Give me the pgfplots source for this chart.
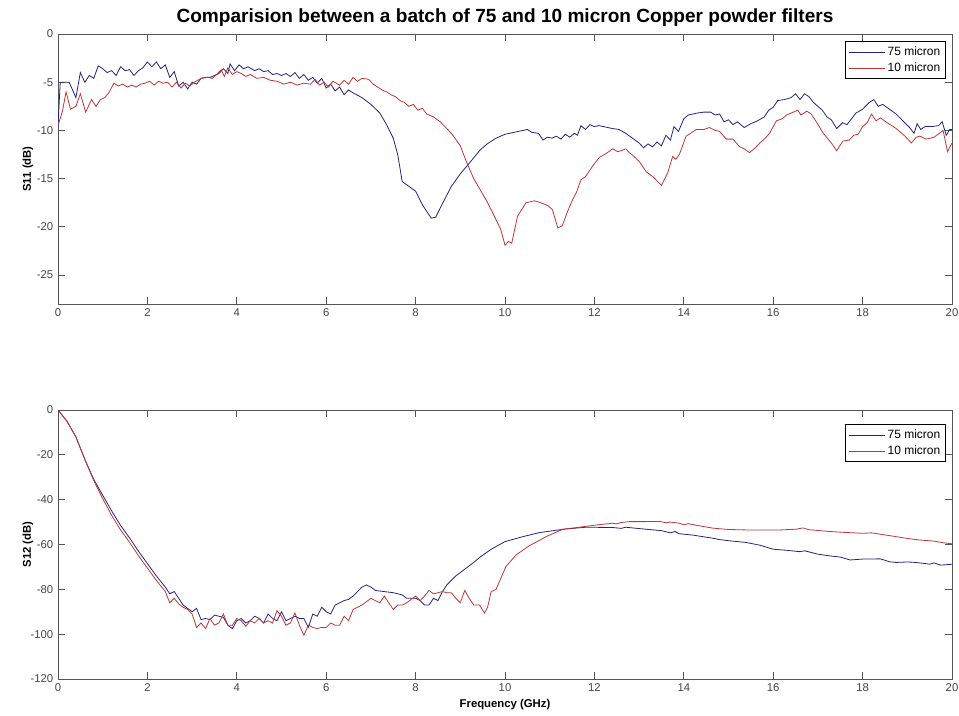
\documentclass[border=0pt]{standalone}
\usepackage{pgfplots}
\pgfplotsset{compat=1.18}
\usepackage{fontspec}
\setmainfont{Liberation Sans}
\definecolor{mblue}{RGB}{35,35,130}
\definecolor{mred}{RGB}{190,55,55}
\definecolor{frm}{RGB}{85,85,85}
\definecolor{tl}{RGB}{70,70,70}
\pgfplotsset{
  mstyle/.style={
    scale only axis, width=670.5pt,
    xmin=0, xmax=20, xtick={0,2,...,20},
    axis line style={frm, line width=0.7pt},
    tick align=inside, tick pos=both,
    major tick length=5.25pt,
    every tick/.style={frm, line width=0.6pt},
    ticklabel style={font=\fontsize{8.5}{10}\selectfont, text=tl},
    /pgf/number format/assume math mode=true,
    every axis y label/.style={at={(axis description cs:-0.0336,0.5)}, rotate=90, anchor=center, font=\bfseries\fontsize{8.5}{10}\selectfont},
    legend cell align=left,
    legend image code/.code={\draw[##1,line width=0.6pt] (0pt,0pt) -- (27pt,0pt);},
    every axis plot/.append style={line width=0.6pt, mark=none},
  }
}
\begin{document}
\begin{tikzpicture}
\path[use as bounding box] (0,0) rectangle (719.25pt,536.25pt);
\begin{axis}[mstyle, name=top, at={(43.5pt,308.25pt)}, anchor=south west,
  height=202.5pt, ymin=-28, ymax=0, ytick={-25,-20,...,0},
  ylabel={S11 (dB)},
  title={Comparision between a batch of 75 and 10 micron Copper powder filters},
  title style={at={(axis description cs:0.5,1.030)}, anchor=center, yshift=0pt, font=\bfseries\fontsize{14.3}{16}\selectfont},
  legend style={at={(rel axis cs:1,1)}, anchor=north east, xshift=-4.5pt, yshift=-5.25pt, draw=black, line width=0.6pt, font=\fontsize{9}{10}\selectfont, row sep=0pt, inner sep=2pt},
]
\addplot[mblue] coordinates {
(0.00,-9.5)(0.05,-5.0)(0.25,-5.0)(0.40,-6.6)(0.50,-4.0)(0.60,-5.0)(0.70,-4.3)(0.80,-4.6)(0.90,-3.3)(1.00,-3.6)
(1.10,-4.0)(1.20,-3.8)(1.30,-4.3)(1.40,-3.4)(1.50,-3.8)(1.60,-3.7)(1.70,-4.3)(1.80,-3.8)(1.90,-3.5)(2.00,-2.9)
(2.10,-3.4)(2.20,-2.9)(2.30,-3.6)(2.40,-3.2)(2.50,-4.5)(2.60,-3.9)(2.70,-5.4)(2.80,-5.0)(2.90,-5.7)(3.00,-5.0)
(3.10,-5.2)(3.20,-4.6)(3.30,-4.5)(3.40,-4.5)(3.50,-4.3)(3.60,-4.1)(3.70,-3.6)(3.80,-4.1)(3.85,-3.1)(3.95,-3.8)
(4.05,-3.2)(4.15,-3.6)(4.25,-3.4)(4.40,-3.8)(4.50,-3.6)(4.60,-3.9)(4.70,-3.8)(4.80,-4.2)(4.90,-4.1)(5.00,-4.3)
(5.10,-4.1)(5.20,-4.4)(5.30,-4.0)(5.40,-4.6)(5.50,-4.2)(5.60,-4.8)(5.70,-4.5)(5.80,-5.1)(5.90,-4.6)(6.00,-5.6)
(6.10,-5.2)(6.20,-5.9)(6.30,-5.5)(6.40,-6.3)(6.50,-5.8)(6.60,-6.1)(6.80,-6.6)(7.00,-7.3)(7.20,-8.2)(7.35,-9.4)
(7.50,-10.8)(7.60,-12.5)(7.70,-15.3)(7.85,-15.8)(8.00,-16.3)(8.15,-17.7)(8.35,-19.1)(8.45,-19.0)(8.60,-17.6)(8.80,-15.8)
(9.00,-14.5)(9.20,-13.4)(9.45,-12.0)(9.60,-11.4)(9.80,-10.8)(10.00,-10.4)(10.20,-10.2)(10.40,-10.0)(10.50,-9.9)(10.60,-10.2)
(10.75,-10.3)(10.85,-11.0)(10.95,-10.7)(11.05,-10.8)(11.15,-10.6)(11.25,-10.9)(11.35,-10.4)(11.45,-10.7)(11.55,-10.3)(11.62,-10.5)
(11.70,-9.5)(11.80,-9.9)(11.90,-9.4)(12.00,-9.6)(12.10,-9.5)(12.20,-9.6)(12.40,-9.8)(12.55,-9.9)(12.70,-10.3)(12.85,-10.8)
(13.00,-11.3)(13.10,-11.8)(13.20,-11.4)(13.30,-11.7)(13.40,-11.2)(13.50,-11.6)(13.60,-10.5)(13.70,-11.0)(13.78,-9.6)(13.88,-10.1)
(14.00,-8.8)(14.10,-8.4)(14.30,-8.2)(14.45,-8.1)(14.60,-8.1)(14.70,-8.4)(14.80,-8.3)(14.90,-9.1)(15.00,-8.9)(15.10,-9.4)
(15.20,-9.1)(15.35,-9.7)(15.50,-9.3)(15.65,-9.0)(15.80,-8.6)(15.90,-7.9)(16.00,-7.6)(16.10,-6.9)(16.25,-6.8)(16.40,-6.6)
(16.50,-6.2)(16.60,-6.8)(16.70,-6.2)(16.80,-6.5)(16.90,-7.1)(17.00,-7.5)(17.10,-7.9)(17.20,-8.6)(17.30,-8.9)(17.42,-9.8)
(17.55,-9.2)(17.65,-9.4)(17.75,-8.8)(17.85,-8.2)(18.00,-7.8)(18.15,-7.1)(18.25,-6.8)(18.35,-7.5)(18.45,-7.3)(18.60,-7.8)
(18.75,-8.3)(18.90,-9.0)(19.05,-9.7)(19.15,-10.3)(19.22,-9.3)(19.30,-9.9)(19.40,-9.6)(19.55,-9.6)(19.70,-9.5)(19.78,-9.1)
(19.87,-10.5)(19.95,-9.9)(20.00,-9.9)
};
\addlegendentry{75 micron}
\addplot[mred] coordinates {
(0.00,-9.5)(0.10,-8.0)(0.18,-6.0)(0.28,-7.8)(0.40,-7.5)(0.50,-6.2)(0.62,-8.1)(0.75,-6.8)(0.85,-7.5)(0.95,-6.8)
(1.05,-6.6)(1.15,-6.0)(1.25,-5.1)(1.35,-5.4)(1.45,-5.2)(1.55,-5.5)(1.65,-5.3)(1.75,-5.5)(1.85,-5.2)(1.95,-5.1)
(2.05,-4.9)(2.15,-5.3)(2.25,-4.9)(2.35,-5.1)(2.45,-5.0)(2.55,-5.5)(2.65,-5.0)(2.75,-5.6)(2.85,-5.1)(2.95,-5.4)
(3.05,-5.0)(3.20,-4.6)(3.35,-4.5)(3.45,-4.6)(3.55,-4.2)(3.65,-3.7)(3.72,-4.4)(3.80,-3.5)(3.90,-4.2)(4.00,-3.9)
(4.10,-4.1)(4.20,-4.4)(4.30,-4.2)(4.45,-4.6)(4.60,-4.5)(4.75,-4.8)(4.90,-4.9)(5.05,-5.2)(5.20,-5.0)(5.35,-5.3)
(5.50,-5.1)(5.65,-5.2)(5.75,-4.7)(5.85,-5.3)(5.95,-5.0)(6.05,-5.5)(6.15,-4.9)(6.30,-5.3)(6.40,-4.8)(6.50,-5.2)
(6.60,-4.5)(6.70,-4.9)(6.80,-4.6)(6.95,-4.7)(7.05,-5.2)(7.15,-5.5)(7.25,-5.8)(7.35,-6.0)(7.45,-6.3)(7.55,-6.5)
(7.65,-6.9)(7.75,-7.1)(7.85,-7.5)(7.95,-7.3)(8.05,-7.9)(8.15,-7.7)(8.25,-8.3)(8.40,-8.6)(8.55,-9.1)(8.70,-9.8)
(8.85,-10.6)(9.00,-11.6)(9.15,-13.4)(9.30,-15.0)(9.45,-16.2)(9.60,-17.4)(9.75,-18.8)(9.90,-20.2)(10.00,-21.9)(10.08,-21.5)
(10.15,-21.7)(10.28,-18.9)(10.47,-17.5)(10.66,-17.3)(10.80,-17.5)(10.96,-17.8)(11.06,-18.2)(11.18,-20.1)(11.28,-19.9)(11.40,-18.4)
(11.51,-17.2)(11.60,-16.4)(11.70,-15.1)(11.80,-14.8)(11.96,-13.7)(12.11,-12.8)(12.26,-12.4)(12.41,-11.9)(12.52,-12.2)(12.60,-12.1)
(12.70,-11.9)(12.78,-12.3)(12.86,-12.6)(13.00,-13.2)(13.16,-14.3)(13.31,-14.8)(13.50,-15.7)(13.64,-14.4)(13.75,-12.7)(13.82,-13.0)
(13.90,-12.5)(14.05,-10.6)(14.15,-10.3)(14.28,-9.9)(14.45,-9.9)(14.57,-9.7)(14.70,-10.0)(14.80,-10.1)(14.95,-10.9)(15.10,-10.9)
(15.25,-11.7)(15.35,-11.9)(15.47,-12.3)(15.60,-11.8)(15.70,-11.3)(15.80,-10.9)(15.92,-10.3)(16.07,-9.0)(16.20,-8.8)(16.30,-8.4)
(16.45,-8.1)(16.55,-7.9)(16.62,-8.4)(16.75,-8.0)(16.85,-8.3)(16.95,-9.0)(17.12,-10.3)(17.30,-11.3)(17.42,-12.1)(17.56,-11.1)
(17.70,-11.0)(17.80,-10.5)(17.90,-10.4)(18.00,-9.6)(18.10,-9.2)(18.20,-8.3)(18.30,-9.0)(18.40,-8.7)(18.55,-9.2)(18.75,-9.8)
(18.95,-10.6)(19.09,-11.3)(19.20,-10.7)(19.28,-10.6)(19.43,-10.9)(19.60,-10.7)(19.80,-10.0)(19.90,-12.2)(20.00,-11.3)
};
\addlegendentry{10 micron}
\end{axis}
\begin{axis}[mstyle, name=bot, at={(43.5pt,27pt)}, anchor=south west,
  height=201.75pt, ymin=-120, ymax=0, ytick={-120,-100,...,0},
  ylabel={S12 (dB)},
  xlabel={Frequency (GHz)},
  xlabel style={at={(axis description cs:0.5,-0.0967)}, anchor=center, font=\bfseries\fontsize{8.5}{10}\selectfont},
  legend style={at={(rel axis cs:1,1)}, anchor=north east, xshift=-4.5pt, yshift=-10.5pt, draw=black, line width=0.6pt, font=\fontsize{9}{10}\selectfont, row sep=0pt, inner sep=2pt},
]
\addplot[mblue] coordinates {
(0.0,0)(0.2,-5)(0.4,-12)(0.6,-22)(0.8,-31)(1.0,-38)(1.2,-45)(1.4,-51.5)(1.6,-57)(1.8,-63)
(2.0,-68.5)(2.2,-74)(2.4,-79)(2.5,-82)(2.6,-81)(2.7,-84)(2.8,-87)(3.0,-90)(3.1,-88.5)(3.2,-93.5)
(3.3,-93)(3.4,-93.5)(3.5,-91.5)(3.6,-92)(3.7,-92.5)(3.8,-96)(3.9,-97.5)(4.0,-94)(4.1,-93)(4.2,-95)
(4.3,-94)(4.4,-92)(4.5,-93)(4.6,-95)(4.7,-91)(4.8,-93)(4.9,-94)(5.0,-90)(5.1,-94)(5.2,-93)
(5.3,-92)(5.4,-93)(5.5,-93)(5.6,-97)(5.7,-91)(5.8,-92)(5.9,-88)(6.0,-90)(6.1,-91)(6.2,-87)
(6.3,-86)(6.4,-85)(6.5,-84.5)(6.6,-83)(6.7,-81)(6.8,-79)(6.9,-78)(7.0,-79)(7.1,-80.5)(7.3,-81)
(7.5,-81.5)(7.7,-82.5)(7.8,-84)(8.0,-84)(8.1,-85)(8.2,-87)(8.3,-87)(8.4,-84)(8.5,-85)(8.6,-81)
(8.7,-78)(8.9,-74)(9.1,-71)(9.3,-68)(9.45,-65.5)(9.7,-62)(10.0,-58.7)(10.4,-56.5)(10.77,-54.7)(11.3,-53.2)
(11.8,-52.3)(12.4,-52.4)(12.6,-52.8)(12.7,-52.3)(13.16,-53.2)(13.5,-53.8)(13.7,-54.8)(13.8,-54.2)(13.9,-55.2)(14.2,-55.8)
(14.65,-57.2)(14.8,-57.8)(15.0,-58.3)(15.4,-59.1)(15.7,-60.3)(16.0,-62.1)(16.3,-62.6)(16.6,-63.2)(16.7,-62.8)(17.0,-64.3)
(17.27,-65.1)(17.5,-65.6)(17.72,-66.9)(18.0,-66.5)(18.4,-66.4)(18.6,-67.7)(18.75,-68)(19.0,-67.8)(19.13,-67.9)(19.4,-68.5)
(19.5,-68.8)(19.6,-68.2)(19.75,-69.2)(20.0,-68.8)
};
\addlegendentry{75 micron}
\addplot[mred] coordinates {
(0.0,0)(0.2,-5)(0.4,-12)(0.6,-22)(0.8,-31.5)(1.0,-39.5)(1.2,-47)(1.4,-53.5)(1.6,-59)(1.8,-65)
(2.0,-70.5)(2.2,-76)(2.4,-81)(2.5,-86)(2.6,-84)(2.7,-86.5)(2.8,-88)(2.9,-89)(3.0,-91)(3.1,-97)
(3.2,-95)(3.3,-97.5)(3.4,-93)(3.5,-96)(3.6,-95)(3.7,-91)(3.8,-96)(3.9,-96)(4.0,-93)(4.1,-94)
(4.2,-96.5)(4.3,-94)(4.4,-95)(4.5,-93)(4.6,-95)(4.7,-94)(4.8,-95)(4.9,-89.5)(5.0,-92)(5.1,-96)
(5.2,-95)(5.3,-90.5)(5.4,-96)(5.5,-100.5)(5.6,-96)(5.7,-97)(5.8,-97.5)(5.9,-97)(6.0,-97)(6.1,-95)
(6.2,-96)(6.3,-96)(6.4,-92)(6.5,-94)(6.6,-89)(6.7,-88)(6.8,-87)(6.9,-85.5)(7.0,-84)(7.1,-85)
(7.2,-86)(7.3,-83)(7.4,-86)(7.5,-89)(7.6,-87)(7.7,-87)(7.8,-86)(7.9,-84.5)(8.0,-83)(8.1,-85)
(8.2,-83)(8.3,-80.5)(8.4,-82)(8.5,-81.5)(8.6,-81)(8.7,-81.5)(8.8,-81.5)(8.9,-84)(9.0,-86)(9.1,-80.5)
(9.2,-84)(9.3,-87)(9.43,-87)(9.54,-90.6)(9.61,-88)(9.69,-81)(9.8,-80)(10.02,-69.8)(10.25,-64.6)(10.54,-60.6)
(10.92,-56.5)(11.29,-53.2)(11.66,-52.3)(12.04,-51.3)(12.41,-50.5)(12.5,-50.8)(12.6,-50.2)(12.78,-49.8)(13.1,-49.8)(13.46,-49.7)
(13.6,-50.3)(13.7,-50.0)(13.9,-50.5)(14.0,-51.2)(14.1,-50.7)(14.3,-51.5)(14.65,-52.7)(15.0,-53.3)(15.4,-53.5)(16.15,-53.5)
(16.5,-53.2)(16.67,-52.6)(16.8,-53.4)(17.27,-54.2)(17.6,-54.6)(18.0,-55.0)(18.2,-54.8)(18.75,-56.5)(19.0,-57.3)(19.28,-58.0)
(19.6,-58.5)(19.8,-59.2)(20.0,-59.7)
};
\addlegendentry{10 micron}
\end{axis}
\end{tikzpicture}
\end{document}
